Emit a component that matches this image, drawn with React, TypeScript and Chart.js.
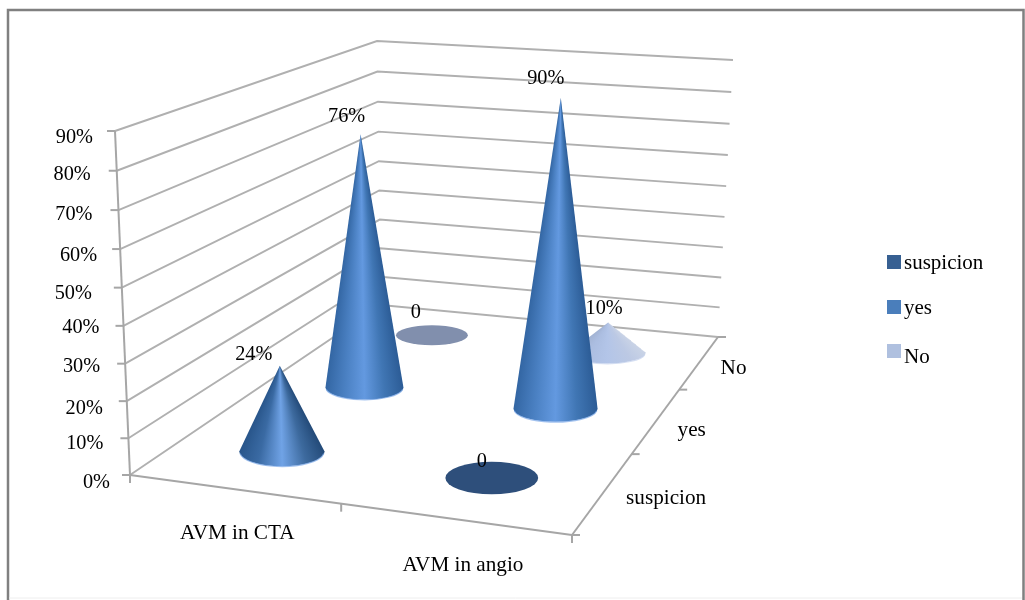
import { useEffect, useRef } from "react";
import { Chart, registerables } from "chart.js";

Chart.register(...registerables);

// Chart content
const categories = ["AVM in CTA", "AVM in angio"];
const seriesNames = ["suspicion", "yes", "No"];
const suspicion = [24, 0];
const yes = [76, 90];
const no = [0, 10];
const valueTicks = [0, 10, 20, 30, 40, 50, 60, 70, 80, 90];

// Per-series colours: legend swatch, flat disc, and the shading across a cone
const swatchColors = ["#376092", "#4a7ebb", "#afc0df"];
const discColors = ["#2e4f7b", "#4a7ebb", "#818fad"];
const coneShades = [
  ["#28558a", "#3a6aa3", "#70a3e6", "#3d6a9e", "#234a78"],
  ["#3366a3", "#4a80c2", "#6399e0", "#4076b4", "#2c5c96"],
  ["#a2b3d3", "#abbde0", "#b3c5e8", "#bcc9e4", "#c9d3e6"],
];
const rimColors = ["rgba(125,170,232,0.7)", "rgba(125,170,232,0.7)", "rgba(200,212,238,0.7)"];

// Manually placed data labels, relative to the top of each mark
const labelOffsets = [
  [[-26, -11], [-10, -16]],
  [[-14, -18], [-15, -19]],
  [[-16, -23], [-4, -14]],
];

// Tick label anchors relative to the left wall
const tickOffsets = [
  [-20, 8], [-25, 5], [-24, 8], [-25, 3], [-24, 2],
  [-30, 6], [-23, 7], [-26, 5], [-26, 4], [-22, 7],
];

// Axis text offsets from the middle of each floor edge segment
const categoryOffsets = [[4, 44], [9, 46]];
const seriesOffsets = [[62.5, 6], [35, 10], [34, 6]];

type Pt = { x: number; y: number };

// Projective map of the unit square onto a quadrilateral
function squareToQuad(p0: Pt, p1: Pt, p2: Pt, p3: Pt) {
  const dx1 = p1.x - p2.x, dx2 = p3.x - p2.x, sx = p0.x - p1.x + p2.x - p3.x;
  const dy1 = p1.y - p2.y, dy2 = p3.y - p2.y, sy = p0.y - p1.y + p2.y - p3.y;
  const den = dx1 * dy2 - dx2 * dy1;
  const g = (sx * dy2 - dx2 * sy) / den;
  const h = (dx1 * sy - sx * dy1) / den;
  const a = p1.x - p0.x + g * p1.x, b = p3.x - p0.x + h * p3.x;
  const d = p1.y - p0.y + g * p1.y, e = p3.y - p0.y + h * p3.y;
  return (u: number, v: number): Pt => {
    const w = g * u + h * v + 1;
    return { x: (a * u + b * v + p0.x) / w, y: (d * u + e * v + p0.y) / w };
  };
}

// Plot box: the floor and the ceiling of the 3D view
const floorAt = squareToQuad(
  { x: 130, y: 475 }, { x: 572, y: 535 }, { x: 718, y: 337 }, { x: 381, y: 305 },
);
const ceilingAt = squareToQuad(
  { x: 115, y: 131 }, { x: 577, y: 165 }, { x: 733, y: 60 }, { x: 377, y: 41 },
);

// Heights foreshorten a little toward the floor
const HEIGHT_PERSPECTIVE = 0.045;

function project(u: number, v: number, level: number): Pt {
  const s = level / (1 + HEIGHT_PERSPECTIVE * (1 - level));
  const f = floorAt(u, v), c = ceilingAt(u, v);
  return { x: f.x + (c.x - f.x) * s, y: f.y + (c.y - f.y) * s };
}

const BASE_RU = 0.106;
const BASE_RV = 0.07;
const SERIF = '"Liberation Serif", "Times New Roman", serif';

function line(ctx: CanvasRenderingContext2D, a: Pt, b: Pt) {
  ctx.beginPath();
  ctx.moveTo(a.x, a.y);
  ctx.lineTo(b.x, b.y);
  ctx.stroke();
}

function drawCone(ctx: CanvasRenderingContext2D, u: number, v: number, level: number, series: number) {
  const c = floorAt(u, v);
  const e = 0.02;
  const rx = BASE_RU * Math.abs(floorAt(u + e, v).x - floorAt(u - e, v).x) / (2 * e);
  const ry = BASE_RV * Math.abs(floorAt(u, v + e).y - floorAt(u, v - e).y) / (2 * e);
  if (level <= 0) {
    ctx.fillStyle = discColors[series];
    ctx.beginPath();
    ctx.ellipse(c.x, c.y, rx, ry, 0, 0, Math.PI * 2);
    ctx.fill();
    return;
  }
  const tip = project(u, v, level);
  const shades = coneShades[series];

  // Conic gradient around the tip: shading runs from the right edge to the left edge
  const angleTo = (x: number) => Math.atan2(c.y - tip.y, x - tip.x);
  const start = angleTo(c.x + rx);
  const gradient = ctx.createConicGradient(start, tip.x, tip.y);
  shades.forEach((_, i) => {
    const t = i / (shades.length - 1);
    const a = angleTo(c.x + rx - 2 * rx * t);
    gradient.addColorStop((a - start) / (Math.PI * 2), shades[shades.length - 1 - i]);
  });

  ctx.fillStyle = gradient;
  ctx.beginPath();
  ctx.moveTo(tip.x, tip.y);
  ctx.lineTo(c.x + rx, c.y);
  ctx.ellipse(c.x, c.y, rx, ry, 0, 0, Math.PI);
  ctx.closePath();
  ctx.fill();

  // Light rim along the front of the base
  ctx.strokeStyle = rimColors[series];
  ctx.lineWidth = 1.2;
  ctx.beginPath();
  ctx.ellipse(c.x, c.y + 0.3, rx - 0.5, ry, 0, 0.12, Math.PI - 0.12);
  ctx.stroke();
}

const cone3dPlugin = {
  id: "cone3d",
  beforeDatasetsDraw(chart: any) {
    const ctx: CanvasRenderingContext2D = chart.ctx;
    ctx.save();

    // Outer frame
    ctx.strokeStyle = "#808080";
    ctx.lineWidth = 2.5;
    ctx.beginPath();
    ctx.moveTo(8, 604);
    ctx.lineTo(8, 10);
    ctx.lineTo(1023.5, 10);
    ctx.lineTo(1023.5, 604);
    ctx.stroke();
    ctx.strokeStyle = "#eeeeee";
    ctx.lineWidth = 1;
    line(ctx, { x: 9, y: 598 }, { x: 1022, y: 598 });

    const y = chart.scales.y;
    const levelOf = (value: number) => (y.bottom - y.getPixelForValue(value)) / (y.bottom - y.top);

    // Gridlines across the two walls
    ctx.strokeStyle = "#b0b0b0";
    ctx.lineWidth = 1.9;
    valueTicks.forEach((t) => {
      const l = levelOf(t);
      const a = project(0, 0, l), b = project(0, 1, l), c = project(1, 1, l);
      ctx.beginPath();
      ctx.moveTo(a.x, a.y);
      ctx.lineTo(b.x, b.y);
      ctx.lineTo(c.x, c.y);
      ctx.stroke();
    });

    // Axis lines and tick marks
    ctx.strokeStyle = "#a6a6a6";
    ctx.lineWidth = 2;
    line(ctx, project(0, 0, 0), project(0, 0, 1));
    line(ctx, floorAt(0, 0), floorAt(1, 0));
    line(ctx, floorAt(1, 0), floorAt(1, 1));
    valueTicks.forEach((t) => {
      const p = project(0, 0, levelOf(t));
      line(ctx, p, { x: p.x - 8, y: p.y });
    });
    [0, 0.5, 1].forEach((u) => {
      const p = floorAt(u, 0);
      line(ctx, p, { x: p.x, y: p.y + 8 });
    });
    [0, 1 / 3, 2 / 3, 1].forEach((v) => {
      const p = floorAt(1, v);
      line(ctx, p, { x: p.x + 8, y: p.y });
    });

    // Axis text
    ctx.fillStyle = "#000";
    ctx.font = `20.3px ${SERIF}`;
    ctx.textBaseline = "middle";
    ctx.textAlign = "right";
    valueTicks.forEach((t, i) => {
      const p = project(0, 0, levelOf(t));
      ctx.fillText(`${t}%`, p.x + tickOffsets[i][0], p.y + tickOffsets[i][1]);
    });
    ctx.textAlign = "center";
    ctx.font = `21.2px ${SERIF}`;
    categories.forEach((name, i) => {
      const p = floorAt((i + 0.5) / categories.length, 0);
      ctx.fillText(name, p.x + categoryOffsets[i][0], p.y + categoryOffsets[i][1]);
    });
    seriesNames.forEach((name, i) => {
      const p = floorAt(1, (i + 0.5) / seriesNames.length);
      ctx.fillText(name, p.x + seriesOffsets[i][0], p.y + seriesOffsets[i][1]);
    });
    ctx.restore();
  },
  afterDatasetsDraw(chart: any) {
    const ctx: CanvasRenderingContext2D = chart.ctx;
    const { x, y } = chart.scales;
    const uOf = (value: number) => (x.getPixelForValue(value) - x.left) / (x.right - x.left);
    const levelOf = (value: number) => (y.bottom - y.getPixelForValue(value)) / (y.bottom - y.top);
    const depthOf = (series: number) => (series + 0.5) / seriesNames.length;
    ctx.save();

    // Back row first, so nearer marks cover farther ones
    for (let s = chart.data.datasets.length - 1; s >= 0; s--) {
      chart.data.datasets[s].data.forEach((d: any) => {
        drawCone(ctx, uOf(d.x), depthOf(s), levelOf(d.y), s);
      });
    }

    // Value labels
    ctx.fillStyle = "#000";
    ctx.font = `20.3px ${SERIF}`;
    ctx.textAlign = "center";
    ctx.textBaseline = "middle";
    chart.data.datasets.forEach((ds: any, s: number) => {
      ds.data.forEach((d: any, i: number) => {
        const p = project(uOf(d.x), depthOf(s), levelOf(d.y));
        const text = d.y === 0 ? "0" : `${d.y}%`;
        ctx.fillText(text, p.x + labelOffsets[s][i][0], p.y + labelOffsets[s][i][1]);
      });
    });

    // Legend beside the plot
    const rows = [255, 300, 344];
    ctx.textAlign = "left";
    ctx.textBaseline = "alphabetic";
    ctx.font = `21px ${SERIF}`;
    chart.data.datasets.forEach((ds: any, s: number) => {
      ctx.fillStyle = ds.backgroundColor;
      ctx.fillRect(887, rows[s], 14, 14);
      ctx.fillStyle = "#000";
      ctx.fillText(ds.label, 904, rows[s] + [14, 14, 19][s]);
    });
    ctx.restore();
  },
};

export default function App() {
  const ref = useRef<HTMLCanvasElement>(null);

  useEffect(() => {
    document.body.style.margin = "0";
    const toPoints = (values: number[]) => values.map((v, i) => ({ x: i + 0.5, y: v }));
    const chart = new Chart(ref.current!, {
      type: "scatter",
      data: {
        datasets: [suspicion, yes, no].map((values, s) => ({
          label: seriesNames[s],
          data: toPoints(values),
          backgroundColor: swatchColors[s],
          pointRadius: 0,
        })),
      },
      options: {
        animation: false,
        responsive: false,
        layout: { padding: 0 },
        plugins: { legend: { display: false }, tooltip: { enabled: false } },
        scales: {
          x: { type: "linear", min: 0, max: categories.length, display: false },
          y: { type: "linear", min: 0, max: 90, display: false },
        },
      },
      plugins: [cone3dPlugin],
    });
    return () => chart.destroy();
  }, []);

  return <canvas ref={ref} width={1025} height={600} style={{ display: "block" }} />;
}
